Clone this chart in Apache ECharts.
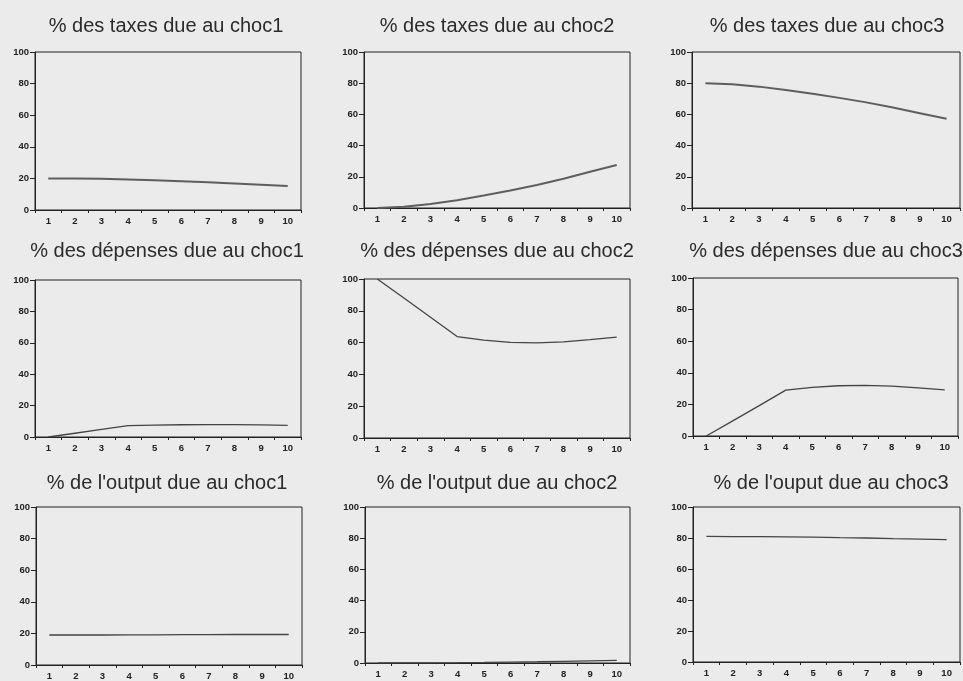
<!DOCTYPE html>
<html>
<head>
<meta charset="utf-8">
<script src="https://cdn.jsdelivr.net/npm/echarts@6/dist/echarts.min.js"></script>
<style>
html,body{margin:0;padding:0;background:#ebebeb;}
#c{width:963px;height:681px;}
</style>
</head>
<body>
<div id="c"></div>
<script>
// ---- data ----
const periods = ['1','2','3','4','5','6','7','8','9','10'];
const yTicks = [0, 20, 40, 60, 80, 100];

const titles = [
  '% des taxes due au choc1', '% des taxes due au choc2', '% des taxes due au choc3',
  '% des dépenses due au choc1', '% des dépenses due au choc2', '% des dépenses due au choc3',
  "% de l'output due au choc1", "% de l'output due au choc2", "% de l'ouput due au choc3"
];

const taxesChoc1 = [20.0, 19.9, 19.7, 19.3, 18.8, 18.2, 17.5, 16.8, 16.0, 15.2];
const taxesChoc2 = [0.0, 0.8, 2.5, 5.0, 8.0, 11.2, 14.8, 18.8, 23.2, 27.6];
const taxesChoc3 = [80.0, 79.3, 77.8, 75.7, 73.2, 70.6, 67.7, 64.4, 60.8, 57.2];

const depChoc1 = [0.0, 2.4, 4.8, 7.2, 7.6, 7.8, 7.9, 7.9, 7.7, 7.4];
const depChoc2 = [100.0, 88.0, 76.0, 63.8, 61.6, 60.2, 59.8, 60.5, 61.9, 63.4];
const depChoc3 = [0.0, 9.6, 19.2, 29.0, 30.8, 31.8, 32.0, 31.6, 30.5, 29.2];

const outChoc1 = [19.0, 19.0, 19.0, 19.1, 19.1, 19.2, 19.2, 19.3, 19.3, 19.3];
const outChoc2 = [0.0, 0.05, 0.1, 0.2, 0.35, 0.6, 0.8, 1.1, 1.4, 1.7];
const outChoc3 = [81.0, 80.9, 80.9, 80.7, 80.5, 80.2, 80.0, 79.6, 79.3, 79.0];

const seriesData = [taxesChoc1, taxesChoc2, taxesChoc3, depChoc1, depChoc2, depChoc3, outChoc1, outChoc2, outChoc3];

// ---- layout ----
const grids = [
  {left: 35, top: 52, width: 266, height: 158},
  {left: 364, top: 52, width: 266, height: 156},
  {left: 692, top: 52, width: 268, height: 156},
  {left: 35, top: 280, width: 266, height: 157},
  {left: 364, top: 279, width: 266, height: 159},
  {left: 693, top: 278, width: 265, height: 158},
  {left: 36, top: 507, width: 266, height: 158},
  {left: 365, top: 507, width: 265, height: 156},
  {left: 693, top: 507, width: 267, height: 155}
];
const titlePos = [
  [166, 16], [497, 16], [827, 16],
  [167, 241], [497, 241], [826, 241],
  [167, 473], [497, 473], [831, 473]
];

const labelStyle = {fontFamily: 'Liberation Sans, Arial, sans-serif', fontSize: 9.5, fontWeight: 'bold', color: '#222'};

const option = {
  backgroundColor: '#ebebeb',
  animation: false,
  title: titles.map((t, i) => ({
    text: t,
    left: titlePos[i][0],
    top: titlePos[i][1],
    textAlign: 'center',
    padding: 0,
    textStyle: {fontFamily: 'Liberation Sans, Arial, sans-serif', fontSize: 20, fontWeight: 'normal', color: '#2b2b2b'}
  })),
  grid: grids.map(g => Object.assign({show: true, borderColor: '#222', borderWidth: 1, backgroundColor: 'transparent', containLabel: false}, g)),
  xAxis: grids.map((g, i) => ({
    type: 'category',
    gridIndex: i,
    data: periods,
    boundaryGap: true,
    axisLine: {lineStyle: {color: '#222', width: 1}},
    axisTick: {show: true, length: 3, lineStyle: {color: '#222'}},
    axisLabel: Object.assign({margin: 6, interval: 0}, labelStyle),
    splitLine: {show: false}
  })),
  yAxis: grids.map((g, i) => ({
    type: 'value',
    gridIndex: i,
    min: yTicks[0],
    max: yTicks[yTicks.length - 1],
    interval: 20,
    axisLine: {show: true, lineStyle: {color: '#222', width: 1}},
    axisTick: {show: true, length: 5, lineStyle: {color: '#222'}},
    axisLabel: Object.assign({margin: 6}, labelStyle),
    splitLine: {show: false}
  })),
  series: seriesData.map((d, i) => ({
    type: 'line',
    xAxisIndex: i,
    yAxisIndex: i,
    data: d,
    showSymbol: false,
    smooth: false,
    lineStyle: {color: i < 3 ? '#5e5e5e' : '#444', width: i < 3 ? 2 : 1.3}
  }))
};

const chart = echarts.init(document.getElementById('c'), null, {renderer: 'canvas'});
chart.setOption(option);
</script>
</body>
</html>
